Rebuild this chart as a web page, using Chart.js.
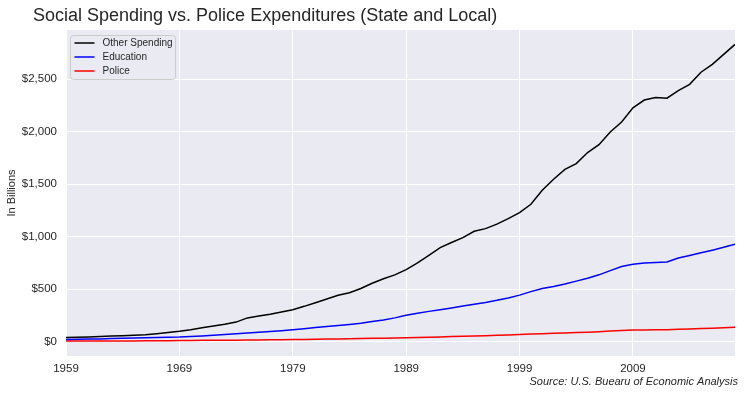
<!DOCTYPE html>
<html>
<head>
<meta charset="utf-8">
<script src="https://cdn.jsdelivr.net/npm/chart.js@4.4.1/dist/chart.umd.min.js"></script>
<style>
  html, body { margin: 0; padding: 0; background: #fff; }
</style>
</head>
<body>
<canvas id="chart" width="745" height="394"></canvas>
<script>
const years = [
  1959, 1960, 1961, 1962, 1963, 1964, 1965, 1966, 1967, 1968,
  1969, 1970, 1971, 1972, 1973, 1974, 1975, 1976, 1977, 1978,
  1979, 1980, 1981, 1982, 1983, 1984, 1985, 1986, 1987, 1988,
  1989, 1990, 1991, 1992, 1993, 1994, 1995, 1996, 1997, 1998,
  1999, 2000, 2001, 2002, 2003, 2004, 2005, 2006, 2007, 2008,
  2009, 2010, 2011, 2012, 2013, 2014, 2015, 2016, 2017, 2018
];

const otherSpending = [
  38, 41, 44, 48, 52, 55, 60, 65, 74, 85,
  97, 112, 130, 148, 165, 185, 225, 242, 260, 282,
  303, 335, 370, 405, 440, 465, 505, 555, 598, 635,
  685, 748, 820, 895, 943, 990, 1050, 1075, 1118, 1170,
  1228, 1307, 1440, 1545, 1640, 1695, 1800, 1875, 1995, 2090,
  2225, 2300, 2325, 2318, 2390, 2450, 2565, 2640, 2735, 2830
];

const education = [
  19, 21, 23, 25, 28, 31, 33, 36, 38, 40,
  42, 47, 53, 60, 67, 73, 81, 88, 95, 103,
  112, 122, 133, 143, 153, 163, 175, 190, 205, 225,
  250, 270, 287, 303, 320, 338, 355, 372, 392, 415,
  442, 475, 505, 525, 548, 575, 603, 635, 675, 715,
  735, 748, 752, 758, 795, 820, 845, 870, 897, 926
];

const police = [
  4, 4, 5, 5, 5, 6, 6, 7, 7, 8,
  9, 10, 11, 11, 12, 13, 14, 15, 16, 17,
  19, 20, 21, 23, 24, 26, 28, 30, 32, 33,
  35, 38, 41, 44, 47, 50, 53, 56, 59, 63,
  67, 71, 75, 78, 81, 85, 89, 94, 101, 106,
  109, 110, 111, 113, 116, 119, 123, 127, 132, 137
];

const xTicks = [1959, 1969, 1979, 1989, 1999, 2009];
const yTicks = [0, 500, 1000, 1500, 2000, 2500];

const FONT = '"Liberation Sans", Arial, sans-serif';
const INK = "#262626";

function series(values) {
  return values.map((v, i) => ({ x: years[i], y: v }));
}

const plotBackground = {
  id: "plotBackground",
  beforeDraw(chart) {
    const { ctx, chartArea: a } = chart;
    ctx.save();
    ctx.fillStyle = "#EAEAF2";
    ctx.fillRect(a.left, a.top, a.right - a.left, a.bottom - a.top);
    ctx.restore();
  },
};

const boxLegend = {
  id: "boxLegend",
  afterDatasetsDraw(chart) {
    const { ctx, chartArea: a } = chart;
    const x = a.left + 4.5, y = a.top + 5.5, w = 105, h = 44, r = 3;
    ctx.save();
    ctx.beginPath();
    ctx.roundRect(x, y, w, h, r);
    ctx.fillStyle = "rgba(234,234,242,0.8)";
    ctx.fill();
    ctx.strokeStyle = "#CCCCCC";
    ctx.lineWidth = 1;
    ctx.stroke();
    ctx.font = "10px " + FONT;
    ctx.textBaseline = "middle";
    chart.data.datasets.forEach((ds, i) => {
      const ry = y + 7.5 + i * 14;
      ctx.beginPath();
      ctx.moveTo(x + 4, ry);
      ctx.lineTo(x + 24, ry);
      ctx.strokeStyle = ds.borderColor;
      ctx.lineWidth = 1.5;
      ctx.stroke();
      ctx.fillStyle = INK;
      ctx.fillText(ds.label, x + 32, ry);
    });
    ctx.restore();
  },
};

const captions = {
  id: "captions",
  afterDraw(chart) {
    const { ctx } = chart;
    ctx.save();
    ctx.fillStyle = INK;
    ctx.textBaseline = "middle";
    ctx.font = "18px " + FONT;
    ctx.textAlign = "left";
    ctx.fillText("Social Spending vs. Police Expenditures (State and Local)", 33, 16);
    ctx.font = "italic 11px " + FONT;
    ctx.textAlign = "right";
    ctx.fillText("Source: U.S. Buearu of Economic Analysis", 738, 382);
    ctx.restore();
  },
};

new Chart(document.getElementById("chart"), {
  type: "line",
  data: {
    datasets: [
      { label: "Other Spending", data: series(otherSpending), borderColor: "#000000" },
      { label: "Education", data: series(education), borderColor: "#0000FF" },
      { label: "Police", data: series(police), borderColor: "#FF0000" },
    ],
  },
  options: {
    responsive: false,
    animation: false,
    layout: { padding: { top: 30, right: 10, left: 0, bottom: 0 } },
    elements: {
      line: { borderWidth: 1.5, tension: 0, fill: false },
      point: { radius: 0 },
    },
    plugins: {
      legend: { display: false },
      tooltip: { enabled: false },
    },
    scales: {
      x: {
        type: "linear",
        min: 1959,
        max: 2018,
        afterBuildTicks: (s) => { s.ticks = xTicks.map((v) => ({ value: v })); },
        afterFit: (s) => { s.height = 38; },
        ticks: {
          color: INK,
          font: { family: FONT, size: 11.5 },
          padding: 6,
          callback: (v) => String(v),
        },
        grid: { color: "#FFFFFF", lineWidth: 1, drawTicks: false },
        border: { display: false },
      },
      y: {
        min: -138,
        max: 2967,
        afterBuildTicks: (s) => { s.ticks = yTicks.map((v) => ({ value: v })); },
        afterFit: (s) => { s.width = 66; },
        ticks: {
          color: INK,
          font: { family: FONT, size: 11.5 },
          padding: 9,
          callback: (v) => "$" + v.toLocaleString("en-US"),
        },
        title: {
          display: true,
          text: "In Billions",
          color: INK,
          font: { family: FONT, size: 11 },
          padding: { top: 5, bottom: 0 },
        },
        grid: { color: "#FFFFFF", lineWidth: 1, drawTicks: false },
        border: { display: false },
      },
    },
  },
  plugins: [plotBackground, boxLegend, captions],
});
</script>
</body>
</html>
